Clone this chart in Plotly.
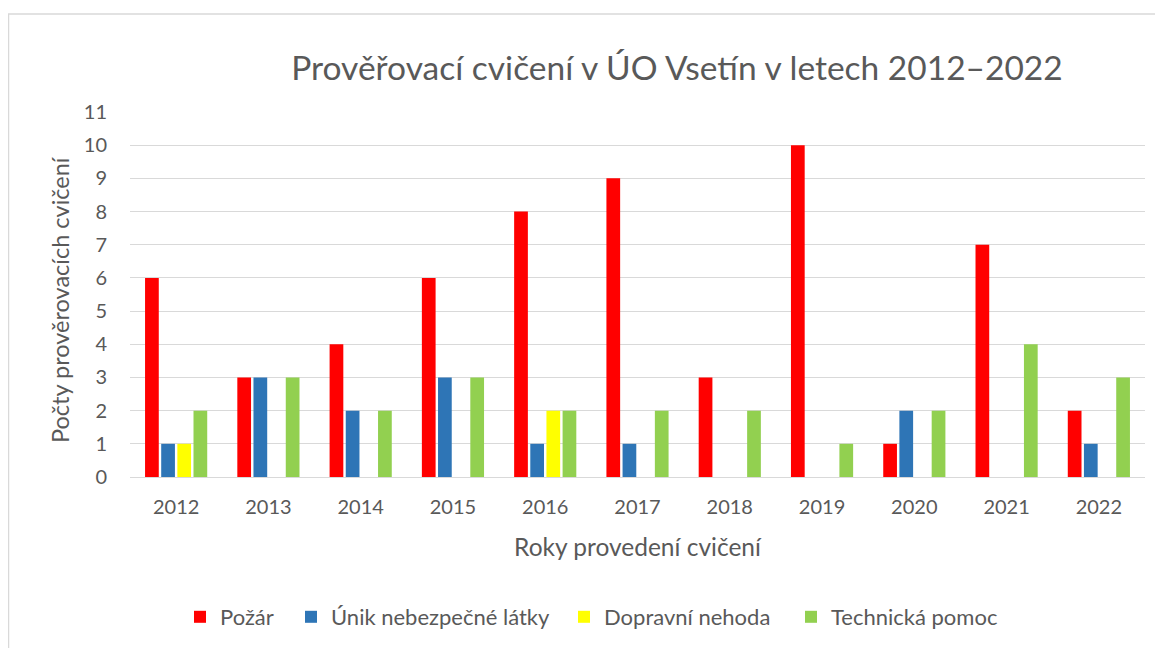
import plotly.graph_objects as go

years = ["2012", "2013", "2014", "2015", "2016", "2017", "2018", "2019", "2020", "2021", "2022"]
pozar = [6, 3, 4, 6, 8, 9, 3, 10, 1, 7, 2]
unik = [1, 3, 2, 3, 1, 1, 0, 0, 2, 0, 1]
dopravni = [1, 0, 0, 0, 2, 0, 0, 0, 0, 0, 0]
technicka = [2, 3, 2, 3, 2, 2, 2, 1, 2, 4, 3]

series = [
    ("Požár", pozar, "#ff0000"),
    ("Únik nebezpečné látky", unik, "#2e75b6"),
    ("Dopravní nehoda", dopravni, "#ffff00"),
    ("Technická pomoc", technicka, "#92d050"),
]

FONT = "Lato"
GREY = "#595959"

# page is shown with an 8px body margin; figure coordinates below
OFF = 8
W, H = 1163 - OFF, 648 - OFF
L, T = 130 - OFF, 112 - OFF
pw, ph = 1015, 365
R = W - L - pw
B = H - T - ph

def px(x):
    return (x - OFF - L) / pw

def py(y):
    return (H - B - (y - OFF)) / ph

legend_names = ["legend", "legend2", "legend3", "legend4"]
legend_x = [200, 311, 584, 811]  # page x of each legend square

fig = go.Figure()
for (name, vals, col), lg in zip(series, legend_names):
    fig.add_trace(go.Bar(x=years, y=vals, name=name, legend=lg,
                         marker=dict(color=col, line=dict(width=0))))

layout_legends = {}
for lg, lx in zip(legend_names, legend_x):
    layout_legends[lg] = dict(
        xref="container", yref="container",
        x=(lx - OFF - 20) / W, xanchor="left",
        y=1 - (617 - OFF) / H, yanchor="middle",
        font=dict(size=22, color=GREY, family=FONT),
        bgcolor="rgba(0,0,0,0)", itemwidth=30,
    )

fig.update_layout(
    width=W, height=H,
    margin=dict(l=L, r=R, t=T, b=B, autoexpand=False),
    paper_bgcolor="white", plot_bgcolor="white",
    font=dict(family=FONT, color=GREY, size=20),
    barmode="group", bargap=0.3, bargroupgap=0.15,
    title=dict(text="Prověřovací cvičení v ÚO Vsetín v letech 2012–2022",
               xref="container", yref="container",
               x=(677 - OFF) / W, xanchor="center", y=1 - (68 - OFF) / H, yanchor="middle",
               font=dict(size=33.5, color=GREY, family=FONT)),
    xaxis=dict(showgrid=False, showline=True, linecolor="#d9d9d9", linewidth=1,
               ticks="", ticklabelstandoff=12, tickfont=dict(size=20, color=GREY),
               title=dict(text="Roky provedení cvičení", font=dict(size=24.5, color=GREY), standoff=21)),
    yaxis=dict(range=[0, 11], dtick=1, showgrid=True, gridcolor="#d9d9d9", gridwidth=1,
               zeroline=True, zerolinecolor="#d9d9d9", zerolinewidth=1,
               ticks="", ticklabelstandoff=22, tickfont=dict(size=20, color=GREY)),
    showlegend=True,
    **layout_legends,
)

fig.add_annotation(text="Počty prověrovacích cvičení", textangle=-90,
                   xref="paper", yref="paper", x=px(60), y=py(300),
                   xanchor="center", yanchor="middle", showarrow=False,
                   font=dict(size=23.5, color=GREY, family=FONT))

fig.add_shape(type="rect", xref="paper", yref="paper",
              x0=px(8.5), x1=px(1175), y0=py(670), y1=py(14),
              line=dict(color="#d9d9d9", width=1.5), fillcolor="rgba(0,0,0,0)", layer="below")

fig.write_html("out.html")
